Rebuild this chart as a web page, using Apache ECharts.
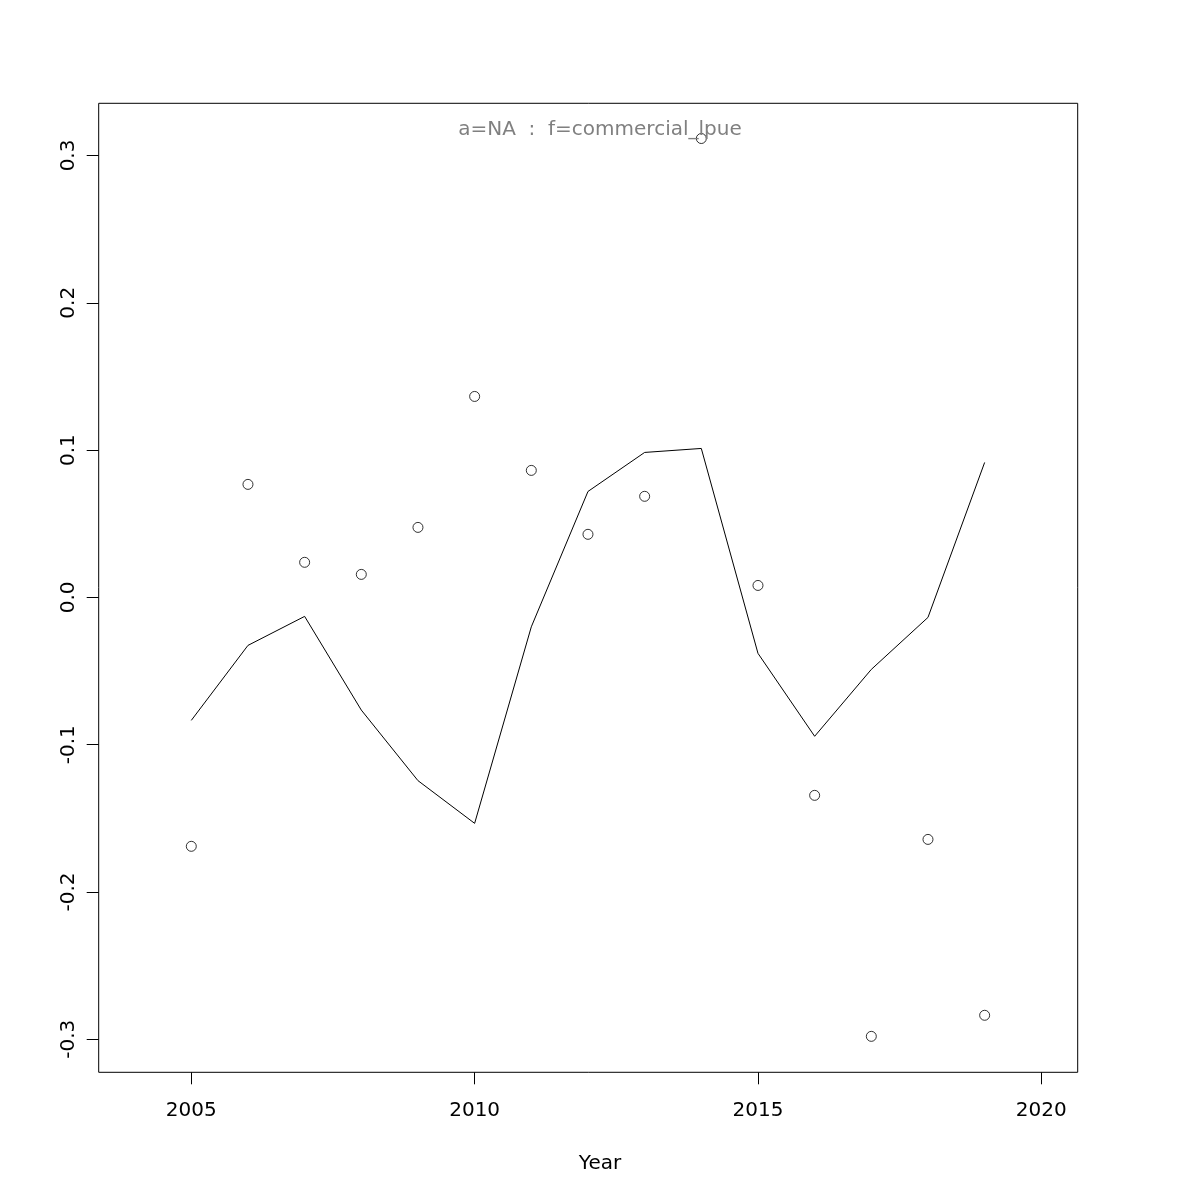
<!DOCTYPE html>
<html>
<head>
<meta charset="utf-8">
<script src="https://cdn.jsdelivr.net/npm/echarts@6/dist/echarts.min.js"></script>
<style>html,body{margin:0;padding:0;background:#fff;}#c{width:1200px;height:1200px;}</style>
</head>
<body>
<div id="c"></div>
<script>
var years = [2005,2006,2007,2008,2009,2010,2011,2012,2013,2014,2015,2016,2017,2018,2019];
var observed = [-0.169,0.0767,0.0238,0.0156,0.0475,0.1364,0.0862,0.0428,0.0686,0.3115,0.0081,-0.1344,-0.298,-0.1643,-0.2837];
var fitted = [-0.0835,-0.0326,-0.0129,-0.0765,-0.1244,-0.1534,-0.0200,0.0719,0.0984,0.1011,-0.0380,-0.0943,-0.0489,-0.0136,0.0916];
var xTicks = [2005,2010,2015,2020];
var yTicks = [-0.3,-0.2,-0.1,0.0,0.1,0.2,0.3];
var titleText = 'a=NA  :  f=commercial_lpue';
var xName = 'Year';

var xMin = 2003.366, xMax = 2020.642, yMin = -0.3224, yMax = 0.3354;
var chart = echarts.init(document.getElementById('c'), null, {renderer:'canvas'});
var font = 'DejaVu Sans';
chart.setOption({
  animation:false,
  backgroundColor:'#ffffff',
  title:{text:titleText,left:'center',top:115,textStyle:{color:'#808080',fontFamily:font,fontSize:20,fontWeight:'normal'}},
  graphic:[{type:'text',left:'center',top:1154,style:{text:xName,fill:'#000',font:'20px "DejaVu Sans"'}}],
  grid:{left:98.7,right:122.3,top:103.3,bottom:127.7,show:true,borderColor:'#000',borderWidth:1,backgroundColor:'transparent',containLabel:false},
  xAxis:{type:'value',min:xMin,max:xMax,
    axisLine:{show:false,onZero:false},splitLine:{show:false},
    axisTick:{show:true,length:12,inside:false,customValues:xTicks,lineStyle:{color:'#000',width:1}},
    axisLabel:{customValues:xTicks,color:'#000',fontFamily:font,fontSize:20,margin:28,formatter:function(v){return String(v);}}
  },
  yAxis:{type:'value',min:yMin,max:yMax,
    axisLine:{show:false,onZero:false},splitLine:{show:false},
    axisTick:{show:true,length:12,inside:false,customValues:yTicks,lineStyle:{color:'#000',width:1}},
    axisLabel:{customValues:yTicks,rotate:90,color:'#000',fontFamily:font,fontSize:20,margin:20,formatter:function(v){return Number(v).toFixed(1);}}
  },
  series:[
    {type:'line',data:years.map(function(y,i){return [y,fitted[i]];}),showSymbol:false,symbol:'none',lineStyle:{color:'#000',width:1},silent:true},
    {type:'scatter',data:years.map(function(y,i){return [y,observed[i]];}),symbol:'circle',symbolSize:10,itemStyle:{color:'rgba(0,0,0,0)',borderColor:'#000',borderWidth:1},silent:true}
  ]
});
</script>
</body>
</html>
